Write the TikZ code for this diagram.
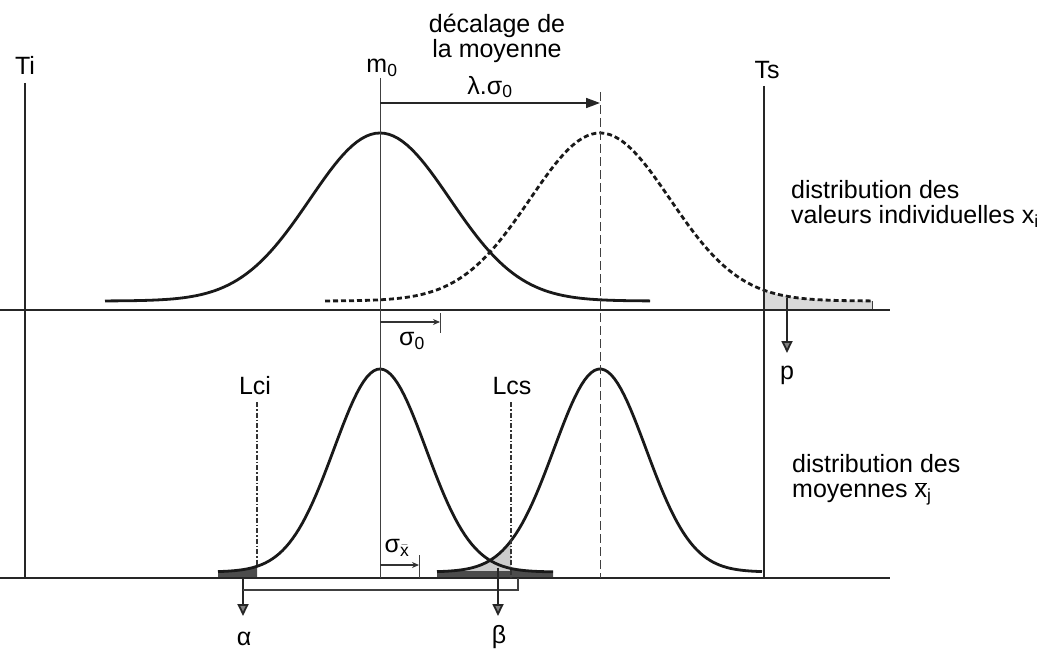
\documentclass[tikz,border=0pt]{standalone}
\usepackage{fontspec}
\setmainfont{Liberation Sans}
\usetikzlibrary{arrows.meta, positioning}
\tikzset{
  %% Axis lines
  axisline/.style={draw=black!85, line width=2.4pt},
  %% Tolerance limits Ti / Ts
  tolline/.style={draw=black!85, line width=2.8pt},
  %% Thin reference line
  refline/.style={draw=black!75, line width=1pt},
  %% Bell curves
  bellcurve/.style={draw=black!90, line width=2.8pt},
  bellshifted/.style={bellcurve, dash pattern=on 5pt off 3pt},
  %% Control limits Lci / Lcs
  limline/.style={draw=black!80, line width=1.5pt,
                  dash pattern=on 5pt off 2pt on 1.5pt off 2pt},
  %% Labels
  txt/.style={font=\fontsize{25}{25}\selectfont, inner sep=1pt},
  %% Arrows
  riskarr/.style={-{Triangle[length=12pt,width=11pt,fill=black!50]},
                  draw=black!85, line width=1.8pt},
  decalarr/.style={-{Triangle[length=14pt,width=10pt]},
                   draw=black!85, line width=1.6pt},
  sigarr/.style={-{Stealth[length=7pt,width=6pt]},
                 draw=black!80, line width=1.1pt},
}

\begin{document}
\begin{tikzpicture}[x=1pt, y=-1pt,
  declare function={
    gtop(\x,\m)=301-168*exp(-((\x-\m)/70)^2/2);
    gbot(\x,\m)=572-203*exp(-((\x-\m)/46)^2/2);
  }]
  \useasboundingbox (0,0) rectangle (1057,650);

  %% Shaded tails
  \fill[black!15] (763,310) -- plot[domain=763:872, samples=30] (\x,{gtop(\x,600)})
    -- (872,310) -- cycle;
  \draw[refline, line width=0.7pt] (872,{gtop(872,600)}) -- (872,310);
  \fill[black!20] (437,578) -- plot[domain=437:511, samples=30] (\x,{gbot(\x,600)})
    -- (511,578) -- cycle;
  \fill[black!70] (437,571) rectangle (553,578);
  \fill[black!70] (218,578) -- plot[domain=218:257, samples=20] (\x,{gbot(\x,380)})
    -- (257,578) -- cycle;
  \fill[black!70] (218,571) rectangle (257,578);
  \fill[black!70] (511,578) -- plot[domain=511:553, samples=20] (\x,{gbot(\x,380)})
    -- (553,578) -- cycle;

  %% Curves
  \draw[bellcurve]   plot[domain=105:650, samples=120] (\x,{gtop(\x,380)});
  \draw[bellshifted] plot[domain=325:872, samples=120] (\x,{gtop(\x,600)});
  \draw[bellcurve]   plot[domain=218:553, samples=100] (\x,{gbot(\x,380)});
  \draw[bellcurve]   plot[domain=437:762, samples=100] (\x,{gbot(\x,600)});

  %% Axes
  \draw[axisline] (0,310) -- (890,310);
  \draw[axisline] (0,578) -- (890,578);

  %% Tolerances and means
  \node[txt] (ti) at (25,65) {Ti};
  \draw[tolline] (25,83) -- (25,578);
  \node[txt] (ts) at (767,70) {Ts};
  \draw[tolline] (764,86) -- (764,578);
  \node[txt] (m0) at (382,68) {m\textsubscript{0}};
  \draw[refline] (380,78) -- (380,578);
  \draw[refline, dash pattern=on 9pt off 4pt] (600,92) -- (600,578);

  %% Shift of the mean
  \node[txt, align=center] (decal) at (497,38) {décalage de\\la moyenne};
  \node[txt] (lam) at (490,87) {λ.σ\textsubscript{0}};
  \coordinate (decA) at (380,103);
  \coordinate (decB) at (600,103);
  \draw[decalarr] (decA) -- (decB);

  %% Sigma markers
  \coordinate (s0a) at (380,322);
  \coordinate (s0b) at (440,322);
  \draw[sigarr] (s0a) -- (s0b);
  \draw[refline] (440,313) -- (440,333);
  \node[txt] (s0) at (412,341) {σ\textsubscript{0}};
  \coordinate (sxa) at (380,565);
  \coordinate (sxb) at (419,565);
  \draw[sigarr] (sxa) -- (sxb);
  \draw[refline] (419,555) -- (419,578);
  \node[txt] (sx) at (397,548) {σ\textsubscript{$\bar{\mbox{x}}$}};

  %% Control limits
  \node[txt] (lci) at (255,386) {Lci};
  \draw[limline] (257,402) -- (257,566);
  \node[txt] (lcs) at (512,386) {Lcs};
  \draw[limline] (511,402) -- (511,578);

  %% Risks
  \coordinate (ptail) at (787,298);
  \coordinate (phead) at (787,353);
  \draw[riskarr] (ptail) -- (phead);
  \node[txt] (p) at (787,375) {p};
  \coordinate (atail) at (243,578);
  \coordinate (ahead) at (243,616);
  \draw[riskarr] (atail) -- (ahead);
  \node[txt] (alpha) at (244,639) {α};
  \coordinate (abr) at (243,590);
  \coordinate (rtail) at (518,578);
  \draw[refline, line width=1.8pt] (abr) -| (rtail);
  \coordinate (btail) at (498,568);
  \coordinate (bhead) at (498,616);
  \draw[riskarr] (btail) -- (bhead);
  \node[txt] (beta) at (499,637) {β};

  %% Captions
  \node[txt, align=left, anchor=north west] (distx) at (790,179)
       {distribution des\\valeurs individuelles x\textsubscript{i}};
  \node[txt, align=left, anchor=north west] (distm) at (791,453)
       {distribution des\\moyennes $\overline{\mbox{x}}$\textsubscript{j}};

\end{tikzpicture}
\end{document}
